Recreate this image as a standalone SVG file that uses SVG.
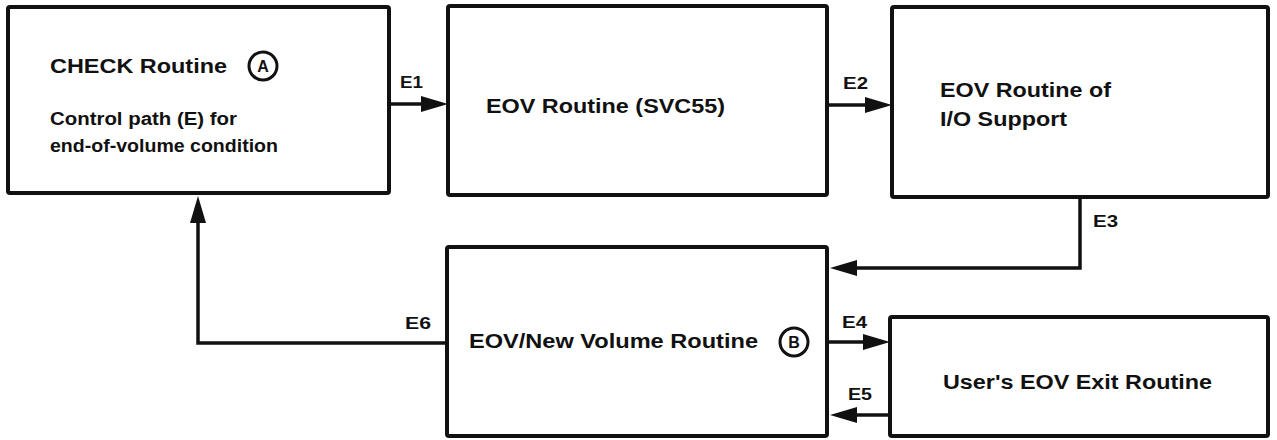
<svg xmlns="http://www.w3.org/2000/svg" width="1277" height="440" viewBox="0 0 1277 440">
<style>
.box{fill:#fff;stroke:#111;stroke-width:4;stroke-linejoin:round}
.t{font-family:"Liberation Sans",Arial,sans-serif;font-weight:bold;font-size:20px;fill:#111}
.s{font-family:"Liberation Sans",Arial,sans-serif;font-weight:bold;font-size:18px;fill:#111}
.l{font-family:"Liberation Sans",Arial,sans-serif;font-weight:bold;font-size:16px;fill:#111}
.c{fill:none;stroke:#111;stroke-width:3}
.ln{fill:none;stroke:#111;stroke-width:3.5;stroke-linejoin:miter;marker-end:url(#ah)}
</style>
<defs>
<marker id="ah" markerUnits="userSpaceOnUse" markerWidth="27" markerHeight="18" viewBox="0 0 27 18" refX="1" refY="9" orient="auto">
<path d="M0,1 L27,9 L0,17 z" fill="#111"/>
</marker>
</defs>
<rect width="1277" height="440" fill="#fff"/>
<g id="connectors">
<path id="e1" class="ln" d="M389,104 H422"/>
<path id="e2" class="ln" d="M827,105 H866"/>
<path id="e3" class="ln" d="M1080,197 V268 H856"/>
<path id="e4" class="ln" d="M827,342 H864"/>
<path id="e5" class="ln" d="M890,415 H856"/>
<path id="e6" class="ln" d="M446,343 H198 V222"/>
<text class="l" x="400" y="88" textLength="23" lengthAdjust="spacingAndGlyphs">E1</text>
<text class="l" x="843" y="89" textLength="25" lengthAdjust="spacingAndGlyphs">E2</text>
<text class="l" x="1093" y="227" textLength="25" lengthAdjust="spacingAndGlyphs">E3</text>
<text class="l" x="842" y="328" textLength="25" lengthAdjust="spacingAndGlyphs">E4</text>
<text class="l" x="848" y="400" textLength="24" lengthAdjust="spacingAndGlyphs">E5</text>
<text class="l" x="405" y="329" textLength="26" lengthAdjust="spacingAndGlyphs">E6</text>
</g>
<g id="check">
<rect class="box" x="8" y="7" width="381" height="186" rx="2"/>
<text class="t" x="50" y="73" textLength="177" lengthAdjust="spacingAndGlyphs">CHECK Routine</text>
<circle class="c" cx="263" cy="66" r="14"/>
<text class="l" x="263" y="72" text-anchor="middle">A</text>
<text class="s" x="50" y="125" textLength="187" lengthAdjust="spacingAndGlyphs">Control path (E) for</text>
<text class="s" x="50" y="152" textLength="228" lengthAdjust="spacingAndGlyphs">end-of-volume condition</text>
</g>
<g id="svc55">
<rect class="box" x="448" y="6" width="379" height="189" rx="2"/>
<text class="t" x="486" y="113" textLength="239" lengthAdjust="spacingAndGlyphs">EOV Routine (SVC55)</text>
</g>
<g id="iosupport">
<rect class="box" x="892" y="7" width="376" height="190" rx="2"/>
<text class="t" x="940" y="97" textLength="171" lengthAdjust="spacingAndGlyphs">EOV Routine of</text>
<text class="t" x="940" y="126" textLength="127" lengthAdjust="spacingAndGlyphs">I/O Support</text>
</g>
<g id="newvolume">
<rect class="box" x="447" y="247" width="380" height="189" rx="2"/>
<text class="t" x="469" y="348" textLength="289" lengthAdjust="spacingAndGlyphs">EOV/New Volume Routine</text>
<circle class="c" cx="794" cy="342" r="14"/>
<text class="l" x="794" y="348" text-anchor="middle">B</text>
</g>
<g id="userexit">
<rect class="box" x="890" y="317" width="378" height="119" rx="2"/>
<text class="t" x="943" y="389" textLength="269" lengthAdjust="spacingAndGlyphs">User's EOV Exit Routine</text>
</g>
</svg>
